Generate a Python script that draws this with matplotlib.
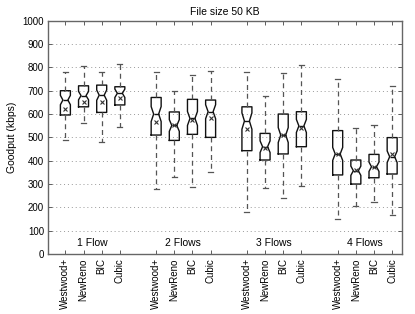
import matplotlib
matplotlib.use("Agg")
import matplotlib.pyplot as plt

# -----------------------------
# Data (kbps)
# -----------------------------
algos = ["Westwood+", "NewReno", "BIC", "Cubic"]
groups = ["1 Flow", "2 Flows", "3 Flows", "4 Flows"]

# one row per group, one value per algorithm
whis_hi = [[781, 806, 781, 813],
           [779, 699, 767, 786],
           [781, 676, 774, 810],
           [751, 539, 551, 720]]
q3 = [[700, 721, 724, 717],
      [671, 609, 663, 660],
      [631, 517, 600, 610],
      [529, 403, 427, 499]]
median = [[660, 679, 681, 689],
          [600, 551, 581, 610],
          [570, 460, 510, 549],
          [429, 357, 374, 417]]
mean = [[620, 653, 653, 667],
        [567, 551, 574, 583],
        [534, 456, 510, 541],
        [429, 360, 374, 427]]
q1 = [[596, 631, 607, 639],
      [510, 487, 513, 500],
      [443, 403, 429, 460],
      [339, 300, 327, 343]]
whis_lo = [[489, 563, 481, 546],
           [279, 331, 289, 350],
           [179, 284, 241, 291],
           [151, 207, 221, 167]]
# notch half-widths
notch = [[20, 18, 22, 18],
         [32, 25, 30, 30],
         [35, 25, 32, 28],
         [28, 20, 20, 25]]

# -----------------------------
# Build stats for bxp
# -----------------------------
stats = []
positions = []
for g in range(4):
    for a in range(4):
        stats.append({
            "med": median[g][a], "q1": q1[g][a], "q3": q3[g][a],
            "whislo": whis_lo[g][a], "whishi": whis_hi[g][a],
            "mean": mean[g][a],
            "cilo": median[g][a] - notch[g][a],
            "cihi": median[g][a] + notch[g][a],
            "fliers": [],
        })
        positions.append(g * 5 + a + 1)

plt.rcParams['font.family'] = ['Liberation Sans', 'DejaVu Sans']

fig = plt.figure(figsize=(4.15, 3.14), dpi=100)
ax = fig.add_axes([0.116, 0.191, 0.853, 0.743])

ax.bxp(stats, positions=positions, widths=0.55, shownotches=True,
       showmeans=True, showfliers=False,
       boxprops=dict(color='#111111', linewidth=1.0),
       medianprops=dict(color='#111111', linewidth=1.0),
       whiskerprops=dict(color='#555555', linewidth=0.9, linestyle=(0, (4, 3))),
       capprops=dict(color='#555555', linewidth=0.9),
       capwidths=0.28,
       meanprops=dict(marker='x', markersize=3.5, markeredgecolor='#333333',
                      markeredgewidth=0.8))

ax.set_xlim(0.05, 19.55)
ax.set_ylim(0, 1000)
ax.set_yticks(range(0, 1001, 100))
ax.set_xticks(positions)
ax.set_xticklabels(algos * 4, rotation=90, fontsize=7)
ax.tick_params(axis='y', labelsize=7)
ax.tick_params(direction='in', length=3, top=True, right=True,
               color='#444444', width=0.6, pad=3)

ax.yaxis.grid(True, linestyle=(0, (1, 3)), color='#999999', linewidth=0.7)
ax.set_axisbelow(True)
for s in ax.spines.values():
    s.set_color('#666666')
    s.set_linewidth(1.0)

for g, name in enumerate(groups):
    ax.text(g * 5 + 2.5, 48, name, ha='center', va='center', fontsize=7.5)

ax.set_ylabel('Goodput (kbps)', fontsize=7.5)
ax.set_title('File size 50 KB', fontsize=7.5, pad=4)

fig.savefig('out.png', dpi=100)
